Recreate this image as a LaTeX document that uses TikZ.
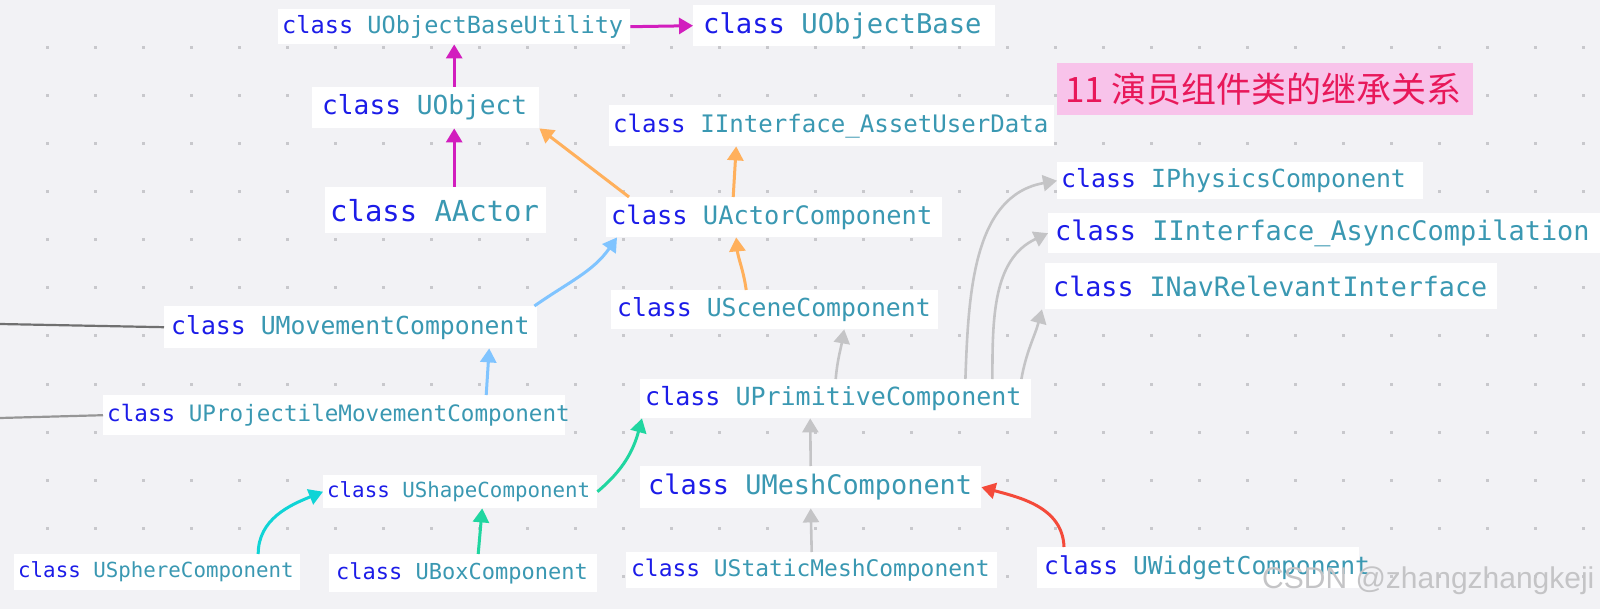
\documentclass[tikz,border=0pt]{standalone}
\usepackage{fontspec}
\newfontfamily\monof{DejaVu Sans Mono}
\newfontfamily\cjkf{Noto Sans CJK SC}
\newfontfamily\wmf{Liberation Sans}
\usetikzlibrary{arrows.meta,calc}
\definecolor{bgc}{RGB}{242,242,245}
\definecolor{dotc}{RGB}{200,200,204}
\definecolor{kwc}{RGB}{28,28,232}
\definecolor{nmc}{RGB}{58,152,178}
\definecolor{pkc}{RGB}{210,30,190}
\definecolor{orc}{RGB}{255,176,92}
\definecolor{blc}{RGB}{128,196,255}
\definecolor{gyc}{RGB}{196,196,198}
\definecolor{cyc}{RGB}{16,212,214}
\definecolor{gnc}{RGB}{32,214,160}
\definecolor{rdc}{RGB}{244,74,58}
\definecolor{ln1}{RGB}{112,112,112}
\definecolor{ln2}{RGB}{150,150,150}
\definecolor{ttbg}{RGB}{248,195,234}
\definecolor{tttx}{RGB}{232,24,90}
\definecolor{wmc}{RGB}{196,196,198}
\newcommand\cf[1]{\fontsize{#1}{#1}\selectfont\monof}
% #1 = width of the text slot, #2 = class name
\newcommand\cls[2]{\makebox[#1pt][l]{\textcolor{kwc}{class}\ \textcolor{nmc}{#2}}}
\tikzset{
  box/.style={fill=white, anchor=north west, inner ysep=0pt},
  arr/.style={line width=3pt, -{Triangle[length=14pt,width=16pt]}},
  pkarr/.style={arr, draw=pkc},
  orarr/.style={arr, draw=orc},
  blarr/.style={arr, draw=blc},
  gyarr/.style={arr, line width=2.6pt, draw=gyc},
  cyarr/.style={arr, draw=cyc},
  gnarr/.style={arr, draw=gnc},
  rdarr/.style={arr, draw=rdc},
}
\begin{document}
\begin{tikzpicture}[x=1pt,y=-1pt]
\useasboundingbox[fill=bgc] (0,0) rectangle (1600,609);
\foreach \i in {0,...,32} \foreach \j in {1,...,12}
  \fill[dotc] (47+48*\i-1.5, 48*\j-1.5) rectangle ++(3,3);

% nodes
\node[box, font=\cf{23.6}, inner xsep=4pt, minimum height=35pt] (uobu) at (278,9) {\cls{344}{UObjectBaseUtility}};
\node[box, font=\cf{27.2}, inner xsep=10pt, minimum height=41pt] (uob) at (693,5) {\cls{282}{UObjectBase}};
\node[box, font=\cf{26.2}, inner xsep=10pt, minimum height=41pt] (uo) at (312,87) {\cls{207}{UObject}};
\node[box, font=\cf{24.1}, inner xsep=4pt, minimum height=41pt] (iasset) at (609,105) {\cls{437}{IInterface\_AssetUserData}};
\node[box, font=\cf{28.9}, inner xsep=5pt, minimum height=46pt] (aactor) at (325,187) {\cls{211}{AActor}};
\node[box, font=\cf{24.8}, inner xsep=7pt, minimum height=42pt] (umov) at (164,306) {\cls{359}{UMovementComponent}};
\node[box, font=\cf{22.6}, inner xsep=4pt, minimum height=40pt] (uproj) at (103,395) {\cls{454}{UProjectileMovementComponent}};
\node[box, font=\cf{25.4}, inner xsep=5pt, minimum height=40pt] (uactc) at (606,197) {\cls{326}{UActorComponent}};
\node[box, font=\cf{24.8}, inner xsep=6pt, minimum height=39pt] (uscene) at (611,290) {\cls{315}{USceneComponent}};
\node[box, font=\cf{25}, inner xsep=5pt, minimum height=39pt] (uprim) at (640,379) {\cls{381}{UPrimitiveComponent}};
\node[box, font=\cf{24.9}, inner xsep=4pt, minimum height=37pt] (iphys) at (1057,162) {\cls{358}{IPhysicsComponent}};
\node[box, font=\cf{26.9}, inner xsep=7pt, minimum height=40pt] (iasync) at (1048,213) {\cls{538}{IInterface\_AsyncCompilation}};
\node[box, font=\cf{26.7}, inner xsep=8pt, minimum height=46pt] (inav) at (1045,263) {\cls{436}{INavRelevantInterface}};
\node[box, font=\cf{20.8}, inner xsep=4pt, minimum height=33pt] (ushape) at (323,475) {\cls{266}{UShapeComponent}};
\node[box, font=\cf{20.8}, inner xsep=4pt, minimum height=36pt] (usphere) at (14,554) {\cls{278}{USphereComponent}};
\node[box, font=\cf{22}, inner xsep=7pt, minimum height=38pt] (ubox) at (329,554) {\cls{254}{UBoxComponent}};
\node[box, font=\cf{26.9}, inner xsep=8pt, minimum height=42pt] (umesh) at (640,466) {\cls{325}{UMeshComponent}};
\node[box, font=\cf{22.9}, inner xsep=5pt, minimum height=36pt] (ustatic) at (626,552) {\cls{361}{UStaticMeshComponent}};
\node[box, font=\cf{24.6}, inner xsep=7pt, minimum height=41pt] (uwidget) at (1037,547) {\cls{308}{UWidgetComponent}};
\node[box, fill=ttbg, text=tttx, font=\fontsize{35}{35}\selectfont\cjkf, inner xsep=8pt, minimum height=52pt] (title) at (1057,63) {\makebox[400pt][l]{11 演员组件类的继承关系}};
\node[anchor=base west, inner sep=0pt, text=wmc, font=\fontsize{30}{30}\selectfont\wmf] (wm) at (1262,588) {CSDN @zhangzhangkeji};

% free ends of the left lines
\coordinate (l1) at (0,324);
\coordinate (l2) at (0,418);
\draw[line width=2.2pt, ln1] (l1) -- (umov.west);
\draw[line width=2.2pt, ln2] (l2) -- (uproj.west);

% connectors
\draw[pkarr] ([xshift=28.5pt]uo.north) -- (uobu.south);
\draw[pkarr] (uobu.east) -- (uob.west);
\draw[pkarr] ([xshift=18.5pt]aactor.north) -- ([xshift=28.5pt]uo.south);
\draw[orarr] ([xshift=23pt]uactc.north west) -- (uo.south east);
\draw[orarr] ([xshift=-41pt]uactc.north) -- ([xshift=-95.5pt]iasset.south);
\draw[orarr] ([xshift=-28.5pt]uscene.north) to[out=98,in=-85] ([xshift=-38pt]uactc.south);
\draw[blarr] ([xshift=-3pt]umov.north east) to[out=35,in=-125] ([xshift=11pt]uactc.south west);
\draw[blarr] ([xshift=152pt]uproj.north) -- ([xshift=138.5pt]umov.south);
\draw[gyarr] (uprim.north) to[out=85,in=-100] ([xshift=69.5pt]uscene.south);
\draw[gyarr] (umesh.north) -- ([xshift=-25.5pt]uprim.south);
\draw[gyarr] (ustatic.north) -- (umesh.south);
\draw[gyarr] ([xshift=-66pt]uprim.north east) to[out=88,in=190] (iphys.west);
\draw[gyarr] ([xshift=-39pt]uprim.north east) to[out=90,in=205] (iasync.west);
\draw[gyarr] ([xshift=-10pt]uprim.north east) to[out=80,in=-105] ([xshift=-3pt]inav.south west);
\draw[rdarr] ([xshift=27pt]uwidget.north west) to[out=92,in=-15] (umesh.east);
\draw[gnarr] (ushape.east) to[out=40,in=-105] ([xshift=2pt]uprim.south west);
\draw[gnarr] ([xshift=15pt]ubox.north) -- ([xshift=22pt]ushape.south);
\draw[cyarr] ([xshift=101pt]usphere.north) to[out=90,in=202] (ushape.west);
\end{tikzpicture}
\end{document}
